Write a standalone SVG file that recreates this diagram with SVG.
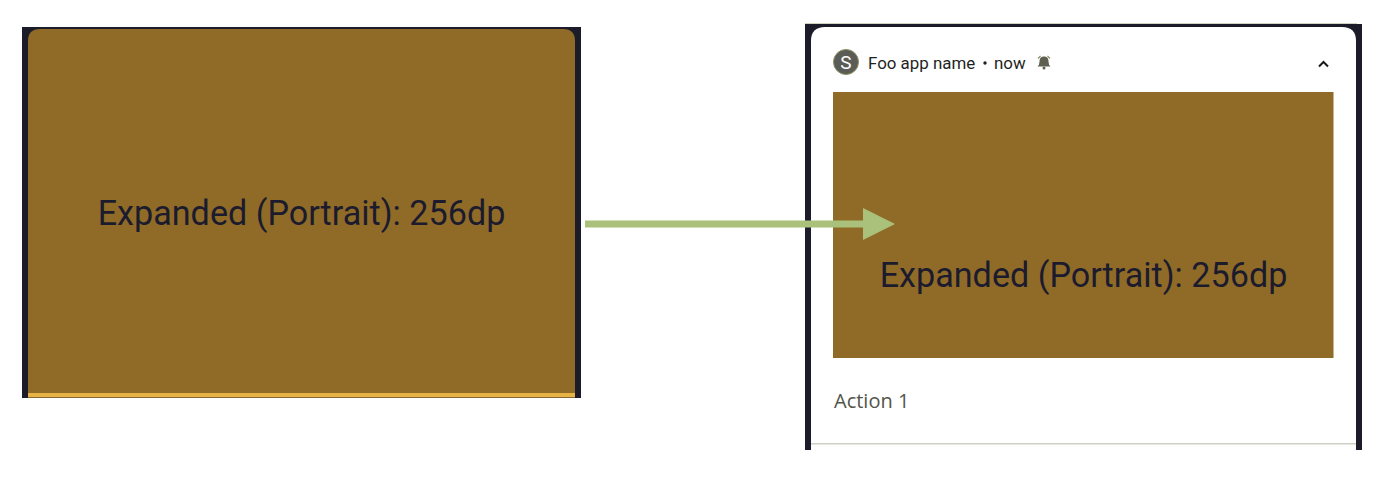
<svg xmlns="http://www.w3.org/2000/svg" width="1400" height="488" viewBox="0 0 1400 488">
<style>
.dark{fill:#1c1b2a}
.brown{fill:#8f6b27}
.big{font-family:Roboto,"Liberation Sans",sans-serif;font-size:34.150px;fill:#1c1b2e}
.small{font-family:Roboto,"Liberation Sans",sans-serif;font-size:16.900px;fill:#1f1f1f}
</style>
<rect width="1400" height="488" fill="#fff"/>
<g id="left-screen">
<rect class="dark" x="22" y="27" width="559" height="371"/>
<path class="brown" d="M28 397V41Q28 29 40 29H563Q575 29 575 41V397Z"/>
<rect x="28" y="393" width="547" height="4.500" fill="#e8b345"/>
<text class="big" x="301.500" y="225" text-anchor="middle">Expanded (Portrait): 256dp</text>
</g>
<g id="right-screen">
<rect x="805" y="23" width="552" height="1.500" fill="#d3d3c0"/>
<rect class="dark" x="805" y="24" width="557" height="426"/>
<path d="M811 450V41Q811 27 825 27H1342Q1356 27 1356 41V450Z" fill="#fff"/>
<rect x="811" y="443" width="545" height="1.500" fill="#cfcfc4"/>
<g id="app-icon">
<circle cx="846" cy="62" r="12.500" fill="#5c5c56" stroke="#8a8f62" stroke-width="1"/>
<text x="846" y="68.500" text-anchor="middle" font-family="Roboto,'Liberation Sans',sans-serif" font-size="19" fill="#fff">S</text>
</g>
<text class="small" x="868" y="68.500">Foo app name</text>
<circle cx="985" cy="63" r="1.700" fill="#1f1f1f"/>
<text class="small" x="994" y="68.500">now</text>
<g id="bell">
<path d="M1044 56.500Q1048.500 56.500 1048.500 61.500Q1048.500 65 1050.500 66.500H1037.500Q1039.500 65 1039.500 61.500Q1039.500 56.500 1044 56.500Z" fill="#5f5f50"/>
<circle cx="1044" cy="68" r="1.500" fill="#5f5f50"/>
<path d="M1038 58.500L1040.500 56M1050 58.500L1047.500 56" stroke="#8a8f62" stroke-width="1.200" fill="none"/>
</g>
<path d="M1319 66.500L1323.500 62L1328 66.500" fill="none" stroke="#1a1a1a" stroke-width="2"/>
<rect class="brown" x="833" y="92" width="500.500" height="266"/>
<text class="big" x="1083.500" y="287" text-anchor="middle">Expanded (Portrait): 256dp</text>
<text x="834" y="408" font-family="'Open Sans','Liberation Sans',sans-serif" font-size="20" fill="#54544a">Action 1</text>
</g>
<g id="connectors">
<rect x="585" y="220.500" width="279" height="7" fill="#a9c17a"/>
<path d="M863 208L895 224L863 240Z" fill="#a9c17a"/>
</g>
</svg>
